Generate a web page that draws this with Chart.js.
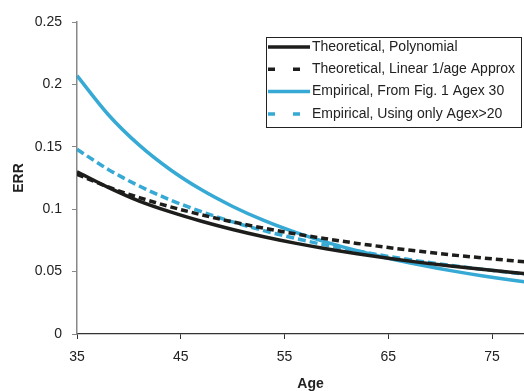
<!DOCTYPE html>
<html>
<head>
<meta charset="utf-8">
<script src="https://cdn.jsdelivr.net/npm/chart.js@4.4.1/dist/chart.umd.min.js"></script>
<style>
  html, body { margin: 0; padding: 0; background: #fff; overflow: hidden; }
  #wrap { width: 524px; height: 391px; overflow: hidden; }
</style>
</head>
<body>
<div id="wrap"><canvas id="myChart" width="544" height="391"></canvas></div>
<script>
// values
var ages = [35, 38, 41, 44, 47, 50, 53, 56, 59, 62, 65, 68, 71, 74, 77, 80];
var theoPolynomial = [0.130, 0.1175, 0.1065, 0.0978, 0.0903, 0.0837, 0.0779, 0.0728, 0.0683, 0.0643, 0.0607, 0.0574, 0.0545, 0.0518, 0.0493, 0.0470];
var theoLinear = [0.128, 0.1178, 0.1093, 0.1019, 0.0955, 0.0898, 0.0848, 0.0803, 0.0763, 0.0726, 0.0693, 0.0663, 0.0635, 0.0610, 0.0587, 0.0565];
var empFig1 = [0.207, 0.1759, 0.1513, 0.1316, 0.1155, 0.1022, 0.0910, 0.0816, 0.0736, 0.0667, 0.0607, 0.0555, 0.0508, 0.0467, 0.0431, 0.0399];
var empOver20 = [0.148, 0.1319, 0.1186, 0.1074, 0.0980, 0.0898, 0.0828, 0.0767, 0.0712, 0.0665, 0.0622, 0.0584, 0.0550, 0.0519, 0.0491, 0.0465];
var xTicks = [35, 45, 55, 65, 75];
var yTicks = [0, 0.05, 0.1, 0.15, 0.2, 0.25];

var BLACK = '#1d1d1b';
var BLUE = '#36a9d4';
var FONT = '"Liberation Sans", Arial, sans-serif';

function pts(ys) {
  return ages.map(function (a, i) { return { x: a, y: ys[i] }; });
}

function line(label, ys, color, dash, legendDash) {
  return {
    label: label,
    data: pts(ys),
    borderColor: color,
    backgroundColor: color,
    borderWidth: 3.5,
    borderDash: dash,
    legendDash: legendDash,
    pointRadius: 0,
    cubicInterpolationMode: 'monotone',
    fill: false
  };
}

// legend drawn as a boxed panel inside the plot, like the original
var boxLegend = {
  id: 'boxLegend',
  afterDraw: function (chart) {
    var ctx = chart.ctx;
    var left = 266, top = 37, right = 521, bottom = 127;
    ctx.save();
    ctx.fillStyle = '#fff';
    ctx.fillRect(left, top, right - left, bottom - top);
    ctx.strokeStyle = '#222';
    ctx.lineWidth = 1;
    ctx.strokeRect(left + 0.5, top + 0.5, right - left, bottom - top);
    ctx.font = '14px ' + FONT;
    ctx.textBaseline = 'middle';
    chart.data.datasets.forEach(function (ds, i) {
      var y = 47 + i * 22.3;
      ctx.beginPath();
      ctx.strokeStyle = ds.borderColor;
      ctx.lineWidth = 3.5;
      ctx.setLineDash(ds.legendDash || []);
      ctx.moveTo(268, y);
      ctx.lineTo(310, y);
      ctx.stroke();
      ctx.setLineDash([]);
      ctx.fillStyle = '#222';
      ctx.fillText(ds.label, 312, y);
    });
    ctx.restore();
  }
};

var ctx = document.getElementById('myChart').getContext('2d');
var chart = new Chart(ctx, {
  type: 'line',
  data: {
    datasets: [
      line('Theoretical, Polynomial', theoPolynomial, BLACK, [], []),
      line('Theoretical, Linear 1/age Approx', theoLinear, BLACK, [7, 4], [7, 18]),
      line('Empirical, From Fig. 1 Agex 30', empFig1, BLUE, [], []),
      line('Empirical, Using only Agex>20', empOver20, BLUE, [8, 4], [7, 18])
    ]
  },
  options: {
    responsive: false,
    animation: false,
    layout: { padding: { top: 22, right: 0, left: 0, bottom: 0 } },
    plugins: {
      legend: { display: false },
      tooltip: { enabled: false }
    },
    scales: {
      x: {
        type: 'linear',
        min: 35,
        max: 80,
        afterBuildTicks: function (scale) {
          scale.ticks = xTicks.map(function (v) { return { value: v }; });
        },
        afterFit: function (scale) { scale.height = 57; },
        grid: { display: true, drawOnChartArea: false, drawTicks: true, tickLength: 5, tickColor: '#333' },
        border: { display: true, color: '#333', width: 1.2 },
        ticks: {
          padding: 10,
          color: '#222',
          font: { family: FONT, size: 14 },
          maxRotation: 0
        },
        title: {
          display: true,
          text: 'Age',
          color: '#222',
          font: { family: FONT, size: 14, weight: 'bold' },
          padding: { top: 0, bottom: -2 }
        }
      },
      y: {
        min: 0,
        max: 0.25,
        afterBuildTicks: function (scale) {
          scale.ticks = yTicks.map(function (v) { return { value: v }; });
        },
        afterFit: function (scale) { scale.width = 77; },
        grid: { display: true, drawOnChartArea: false, drawTicks: true, tickLength: 5, tickColor: '#888' },
        border: { display: true, color: '#888', width: 1.5 },
        ticks: {
          padding: 10,
          color: '#222',
          font: { family: FONT, size: 14 },
          callback: function (v) { return String(+v.toFixed(2)); }
        },
        title: {
          display: true,
          text: 'ERR',
          color: '#222',
          font: { family: FONT, size: 14, weight: 'bold' },
          padding: { top: 11, bottom: 0 }
        }
      }
    }
  },
  plugins: [boxLegend]
});
</script>
</body>
</html>
